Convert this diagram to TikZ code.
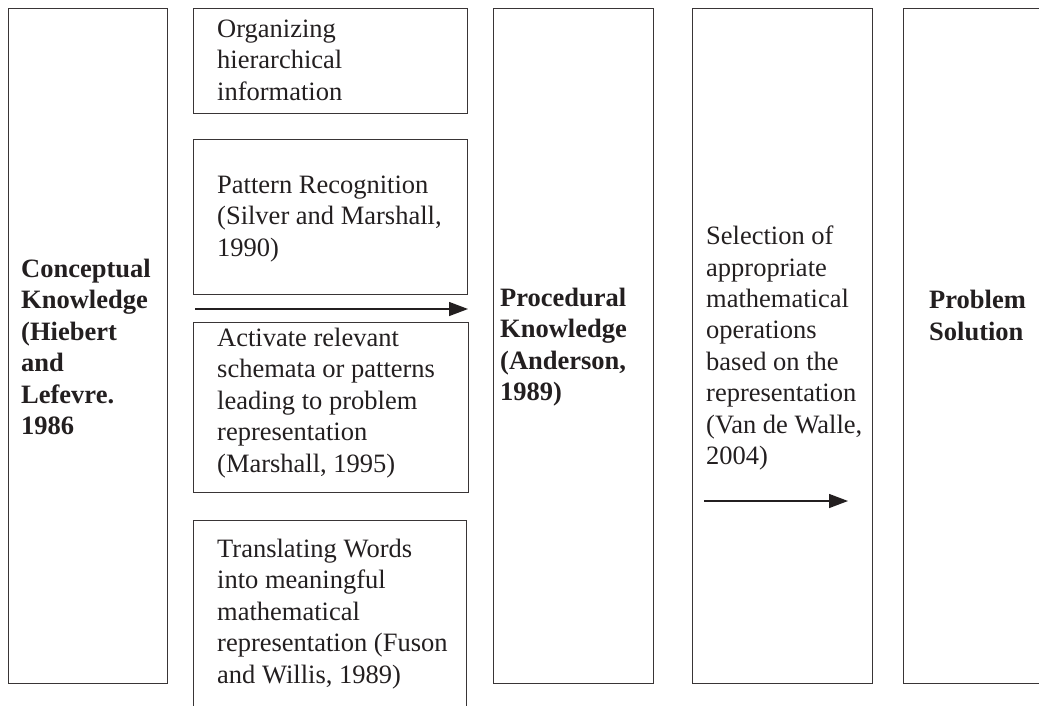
\documentclass[tikz,border=0pt]{standalone}
\usepackage{fontspec}
\setmainfont{Liberation Serif}
\usetikzlibrary{arrows.meta}
\definecolor{ink}{HTML}{231F20}
\begin{document}
\begin{tikzpicture}[x=1pt,y=-1pt,
  box/.style={draw=ink!90, line width=1.2pt, inner sep=0pt, anchor=north west},
  txt/.style={anchor=west, align=left, inner sep=0pt, text=ink,
    font=\fontsize{26.5}{31.4}\selectfont},
  btxt/.style={txt, font=\fontsize{26.5}{31.4}\selectfont\bfseries},
  flow/.style={-{Triangle[length=19pt,width=14pt]}, line width=1.4pt, draw=ink}]
\useasboundingbox (0,0) rectangle (1039,705);
\clip (0,0) rectangle (1039,705);

% column frames
\node[box, minimum width=159pt, minimum height=675pt] (concept) at (8,8) {};
\node[box, minimum width=274pt, minimum height=105pt] (organize) at (193,8) {};
\node[box, minimum width=274pt, minimum height=155pt] (pattern) at (193,139) {};
\node[box, minimum width=275pt, minimum height=170pt] (activate) at (193,322) {};
\node[box, minimum width=273pt, minimum height=220pt] (translate) at (193,520) {};
\node[box, minimum width=160pt, minimum height=675pt] (proc) at (493,8) {};
\node[box, minimum width=180pt, minimum height=675pt] (select) at (692,8) {};
\node[box, minimum width=200pt, minimum height=675pt] (solution) at (903,8) {};

% texts
\node[btxt] (conceptTxt) at (21,347) {Conceptual\\Knowledge\\(Hiebert\\and\\Lefevre.\\1986};
\node[txt] (organizeTxt) at (217,60) {Organizing\\hierarchical\\information};
\node[txt] (patternTxt) at (217,219) {Pattern Recognition\\(Silver and Marshall,\\1990)};
\node[txt] (activateTxt) at (217,403) {Activate relevant\\schemata or patterns\\leading to problem\\representation\\(Marshall, 1995)};
\node[txt] (translateTxt) at (217,614) {Translating Words\\into meaningful\\mathematical\\representation (Fuson\\and Willis, 1989)};
\node[btxt] (procTxt) at (500,347) {Procedural\\Knowledge\\(Anderson,\\1989)};
\node[txt] (selectTxt) at (706,348) {Selection of\\appropriate\\mathematical\\operations\\based on the\\representation\\(Van de Walle,\\2004)};
\node[btxt] (solutionTxt) at (929,315.5) {Problem\\Solution};

% arrows
\coordinate (a1s) at (195,309);
\coordinate (a1e) at (468,309);
\coordinate (a2s) at (704,501);
\coordinate (a2e) at (848,501);
\draw[flow] (a1s) -- (a1e);
\draw[flow] (a2s) -- (a2e);
\end{tikzpicture}
\end{document}
